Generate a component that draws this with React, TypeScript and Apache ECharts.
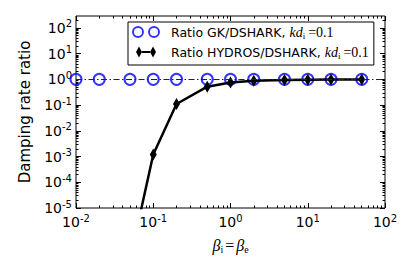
import React, { useEffect, useRef } from "react";
import * as echarts from "echarts";

// ---- data ----
const betaGK = [0.01, 0.02, 0.05, 0.1, 0.2, 0.5, 1, 2, 5, 10, 20, 50];
const ratioGK = [1, 1, 1, 1, 1, 1, 1, 1, 1, 1, 1, 1];
const betaHydros = [0.05, 0.1, 0.2, 0.5, 1, 2, 5, 10, 20, 50];
const ratioHydros = [9.5e-8, 1.2e-3, 0.11, 0.52, 0.75, 0.89, 0.95, 0.97, 0.98, 0.98];
const referenceLevel = 1;

const seriesNames = ["Ratio GK/DSHARK", "Ratio HYDROS/DSHARK"];
const kdLabel = "0.1";

const xMajor = [0.01, 0.1, 1, 10, 100];
const yMajor = [1e-5, 1e-4, 1e-3, 1e-2, 1e-1, 1, 10, 100];
const xMin = 0.01;
const xMax = 100;
const yMin = 1e-5;
const yMax = 290;

const minorOf = (lo: number, hi: number) => {
  const out: number[] = [];
  for (let d = Math.floor(Math.log10(lo)); d <= Math.ceil(Math.log10(hi)); d++) {
    for (let k = 2; k <= 9; k++) {
      const v = k * Math.pow(10, d);
      if (v > lo && v < hi) out.push(v);
    }
  }
  return out;
};
const xMinor = minorOf(xMin, xMax);
const yMinor = minorOf(yMin, yMax);

const SANS = "DejaVu Sans";
const SERIF = "Liberation Serif";

const powLabel = (v: number) => {
  const e = Math.round(Math.log10(v));
  return `{b|10}{s|${e}}`;
};
const labelRich = {
  b: { fontFamily: SANS, fontSize: 14, color: "#000", lineHeight: 18 },
  s: { fontFamily: SANS, fontSize: 10, color: "#000", lineHeight: 5, verticalAlign: "top" },
};

const mkAxis = (kind: "x" | "y", position: string, major: boolean, withLabel: boolean) => {
  const isX = kind === "x";
  const ax: any = {
    type: "log",
    logBase: 10,
    min: isX ? xMin : yMin,
    max: isX ? xMax : yMax,
    position,
    gridIndex: 0,
    axisLine: { show: false, onZero: false },
    splitLine: { show: false },
    minorTick: { show: false },
    axisTick: {
      show: true,
      inside: true,
      length: major ? 5 : 2.5,
      customValues: major ? (isX ? xMajor : yMajor) : isX ? xMinor : yMinor,
      lineStyle: { color: "#000", width: 1 },
    },
    axisLabel: withLabel
      ? {
          show: true,
          margin: isX ? 5 : 4,
          customValues: isX ? xMajor : yMajor,
          formatter: (v: number) => powLabel(v),
          rich: labelRich,
        }
      : { show: false },
  };
  return ax;
};

export default function App() {
  const ref = useRef<HTMLDivElement>(null);
  useEffect(() => {
    if (!ref.current) return;
    const chart = echarts.init(ref.current, undefined, { renderer: "svg" });

    const xAxes = [
      {
        ...mkAxis("x", "bottom", true, true),
        name: "{m|β}{s|i}{r|=}{m|β}{s|e}",
        nameLocation: "middle",
        nameGap: 28,
        nameTextStyle: {
          rich: {
            m: { fontFamily: SERIF, fontStyle: "italic", fontSize: 16, color: "#000", lineHeight: 18 },
            s: { fontFamily: SERIF, fontSize: 10, color: "#000", lineHeight: 8, verticalAlign: "bottom" },
            r: { fontFamily: SERIF, fontSize: 16, color: "#000", lineHeight: 18, padding: [0, 2, 0, 2] },
          },
        },
      },
      mkAxis("x", "bottom", false, false),
      mkAxis("x", "top", true, false),
      mkAxis("x", "top", false, false),
    ];
    const yAxes = [
      {
        ...mkAxis("y", "left", true, true),
        name: "Damping rate ratio",
        nameLocation: "middle",
        nameGap: 44,
        nameTextStyle: { fontFamily: SANS, fontSize: 15, color: "#000", lineHeight: 15 },
      },
      mkAxis("y", "left", false, false),
      mkAxis("y", "right", true, false),
      mkAxis("y", "right", false, false),
    ];

    const circlesIcon =
      "path://M0,0M28,12M1,6A5,5 0 1,1 11,6A5,5 0 1,1 1,6ZM17,6A5,5 0 1,1 27,6A5,5 0 1,1 17,6Z";
    const diamondsIcon =
      "path://M0,0M28,12M4,6L7,0.5L10,6L7,11.5ZM10,5L18,5L18,7L10,7ZM18,6L21,0.5L24,6L21,11.5Z";

    chart.setOption({
      animation: false,
      backgroundColor: "#fff",
      grid: {
        left: 76,
        right: 30,
        top: 16,
        bottom: 69,
        show: true,
        borderColor: "#000",
        borderWidth: 1,
        backgroundColor: "transparent",
      },
      legend: {
        left: 128,
        top: 22,
        orient: "vertical",
        align: "left",
        selectedMode: false,
        backgroundColor: "#fff",
        borderColor: "#000",
        borderWidth: 1,
        borderRadius: 0,
        padding: [3, 5, 5, 3],
        itemGap: 5,
        itemWidth: 28,
        itemHeight: 12,
        data: [
          {
            name: seriesNames[0],
            icon: circlesIcon,
            itemStyle: { color: "rgba(0,0,0,0)", borderColor: "#0000ff", borderWidth: 2 },
          },
          {
            name: seriesNames[1],
            icon: diamondsIcon,
            itemStyle: { color: "#000", borderWidth: 0 },
          },
        ],
        formatter: (name: string) => `{t|${name}, }{m|kd}{s|i}{r|=${kdLabel}}`,
        textStyle: {
          rich: {
            t: { fontFamily: SANS, fontSize: 12.5, color: "#000", lineHeight: 16, padding: [0, 0, 0, 6] },
            m: { fontFamily: SERIF, fontStyle: "italic", fontSize: 14, color: "#000", lineHeight: 16 },
            s: { fontFamily: SERIF, fontSize: 9, color: "#000", lineHeight: 9, verticalAlign: "bottom" },
            r: { fontFamily: SERIF, fontSize: 14, color: "#000", lineHeight: 16, padding: [0, 0, 0, 3] },
          },
        },
      },
      xAxis: xAxes,
      yAxis: yAxes,
      series: [
        {
          name: seriesNames[0],
          type: "scatter",
          xAxisIndex: 0,
          yAxisIndex: 0,
          data: betaGK.map((x, i) => [x, ratioGK[i]]),
          symbol: "circle",
          symbolSize: 11,
          itemStyle: { color: "rgba(0,0,0,0)", borderColor: "#0000ff", borderWidth: 2 },
          z: 2,
          markLine: {
            silent: true,
            symbol: "none",
            label: { show: false },
            lineStyle: { color: "#222", width: 1.2, type: [6, 2.5, 1.5, 2.5] },
            data: [{ yAxis: referenceLevel }],
          },
        },
        {
          name: seriesNames[1],
          type: "line",
          xAxisIndex: 0,
          yAxisIndex: 0,
          data: betaHydros.map((x, i) => [x, ratioHydros[i]]),
          symbol: "diamond",
          symbolSize: [7, 12],
          showAllSymbol: true,
          clip: true,
          itemStyle: { color: "#000" },
          lineStyle: { color: "#000", width: 2.5 },
          z: 3,
        },
      ],
    });
    return () => chart.dispose();
  }, []);
  return (
    <div
      ref={ref}
      style={{ position: "fixed", left: 0, top: 0, width: 415, height: 277, background: "#fff" }}
    />
  );
}
